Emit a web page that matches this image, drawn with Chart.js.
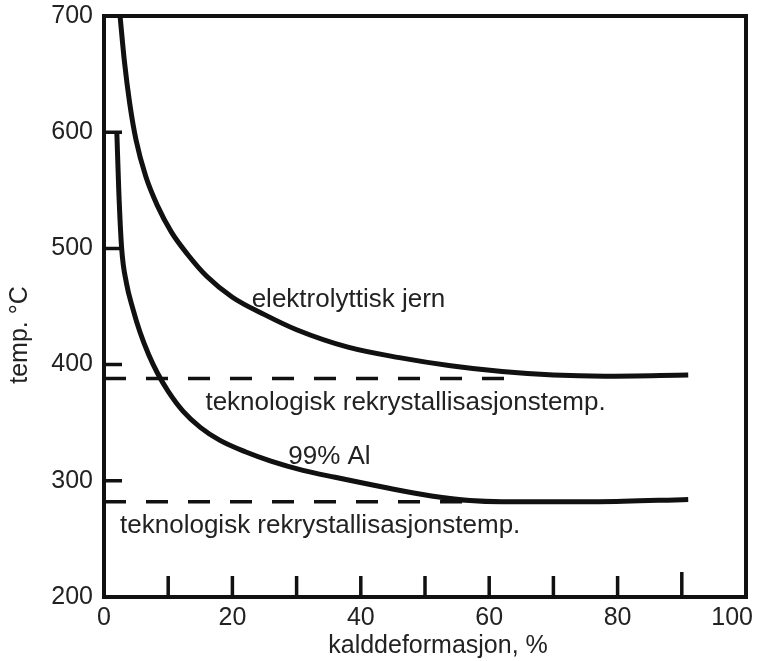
<!DOCTYPE html>
<html>
<head>
<meta charset="utf-8">
<script src="https://cdn.jsdelivr.net/npm/chart.js@4.4.1/dist/chart.umd.min.js"></script>
<style>
  html, body { margin: 0; padding: 0; background: #fff; }
  #wrap { width: 761px; height: 661px; }
</style>
</head>
<body>
<div id="wrap"><canvas id="chart" width="761" height="661"></canvas></div>
<script>
// cold deformation (%) vs temperature (°C)
const ironX = [2.5, 3.2, 4, 5, 6.5, 8.3, 10.5, 13, 16, 20, 25, 30, 38, 46, 54, 62, 70, 78, 91];
const ironT = [700, 660, 625, 593, 562, 537, 514, 495, 476, 458, 443, 430, 415, 406, 399, 394, 391, 390, 391];
const alX = [2, 2.3, 2.75, 3.5, 4.5, 5.6, 7, 8.3, 10, 12.3, 15, 18, 22, 26, 31, 36, 44, 51, 57, 62, 77, 91];
const alT = [600, 550, 500, 470, 448, 428, 408, 393, 377, 360, 346, 335, 325, 317, 309, 303, 294, 287, 283, 282, 282, 284];

// technological recrystallisation temperatures (dashed)
const recrystT = [388, 282];
const recrystEnd = [65, 58];

const xTickLabels = [0, 20, 40, 60, 80, 100];
const yTickLabels = [200, 300, 400, 500, 600, 700];
const xTickMarks = [10, 20, 30, 40, 50, 60, 70, 80, 90];
const yTickMarks = [300, 400, 500, 600];

const notes = [
  { text: 'elektrolyttisk jern', x: 23, y: 456 },
  { text: 'teknologisk rekrystallisasjonstemp.', x: 15.8, y: 367 },
  { text: '99% Al', x: 28.7, y: 321 },
  { text: 'teknologisk rekrystallisasjonstemp.', x: 2.5, y: 261 }
];

const FONT = "'Liberation Sans', Arial, sans-serif";
const INK = '#111';

function pts(xs, ys) {
  return xs.map((x, i) => ({ x: x, y: ys[i] }));
}

const datasets = [
  { data: pts(ironX, ironT), borderColor: INK, borderWidth: 5, cubicInterpolationMode: 'monotone' },
  { data: pts(alX, alT), borderColor: INK, borderWidth: 5, cubicInterpolationMode: 'monotone' }
];
recrystT.forEach((t, i) => {
  datasets.push({
    data: [{ x: 0, y: t }, { x: recrystEnd[i], y: t }],
    borderColor: INK, borderWidth: 3.5, borderDash: [22, 20]
  });
});

// frame, inward ticks, annotations and axis titles
const decor = {
  id: 'decor',
  afterDatasetsDraw(chart) {
    const ctx = chart.ctx;
    const a = chart.chartArea;
    const xs = chart.scales.x, ys = chart.scales.y;
    ctx.save();
    ctx.strokeStyle = INK;
    ctx.lineWidth = 4;
    ctx.strokeRect(a.left, a.top, a.right - a.left, a.bottom - a.top);

    ctx.lineWidth = 3.5;
    ctx.beginPath();
    xTickMarks.forEach(v => {
      const px = xs.getPixelForValue(v);
      ctx.moveTo(px, a.bottom);
      ctx.lineTo(px, a.bottom - (v === 90 ? 25 : 21));
    });
    yTickMarks.forEach(v => {
      const py = ys.getPixelForValue(v);
      ctx.moveTo(a.left, py);
      ctx.lineTo(a.left + 18, py);
    });
    ctx.stroke();

    ctx.fillStyle = '#222';
    ctx.font = '26px ' + FONT;
    ctx.textAlign = 'left';
    ctx.textBaseline = 'middle';
    notes.forEach(n => {
      ctx.fillText(n.text, xs.getPixelForValue(n.x), ys.getPixelForValue(n.y));
    });

    ctx.font = '25px ' + FONT;
    ctx.textAlign = 'center';
    ctx.fillText('kalddeformasjon, %', 438, 646);

    ctx.translate(20, 335);
    ctx.rotate(-Math.PI / 2);
    ctx.fillText('temp. °C', 0, 0);
    ctx.restore();
  }
};

new Chart(document.getElementById('chart'), {
  type: 'scatter',
  data: { datasets: datasets },
  options: {
    responsive: false,
    animation: false,
    showLine: true,
    layout: { padding: { top: 16, right: 15, left: 0, bottom: 0 } },
    elements: { point: { radius: 0, hoverRadius: 0 }, line: { fill: false } },
    plugins: { legend: { display: false }, tooltip: { enabled: false } },
    scales: {
      x: {
        type: 'linear', min: 0, max: 100,
        afterBuildTicks: s => { s.ticks = xTickLabels.map(v => ({ value: v })); },
        afterFit: s => { s.height = 64; s.paddingLeft = 0; s.paddingRight = 0; },
        grid: { display: false, drawTicks: false },
        border: { display: false },
        ticks: {
          color: '#222', font: { family: FONT, size: 25 }, padding: 6, maxRotation: 0,
          // last label sits left of the corner so it stays inside the page
          callback: v => (v === 100 ? '100    ' : String(v))
        }
      },
      y: {
        type: 'linear', min: 200, max: 700,
        afterBuildTicks: s => { s.ticks = yTickLabels.map(v => ({ value: v })); },
        afterFit: s => { s.width = 104; s.paddingTop = 0; s.paddingBottom = 0; },
        grid: { display: false, drawTicks: false },
        border: { display: false },
        ticks: { color: '#222', font: { family: FONT, size: 25 }, padding: 11 }
      }
    }
  },
  plugins: [decor]
});
</script>
</body>
</html>
